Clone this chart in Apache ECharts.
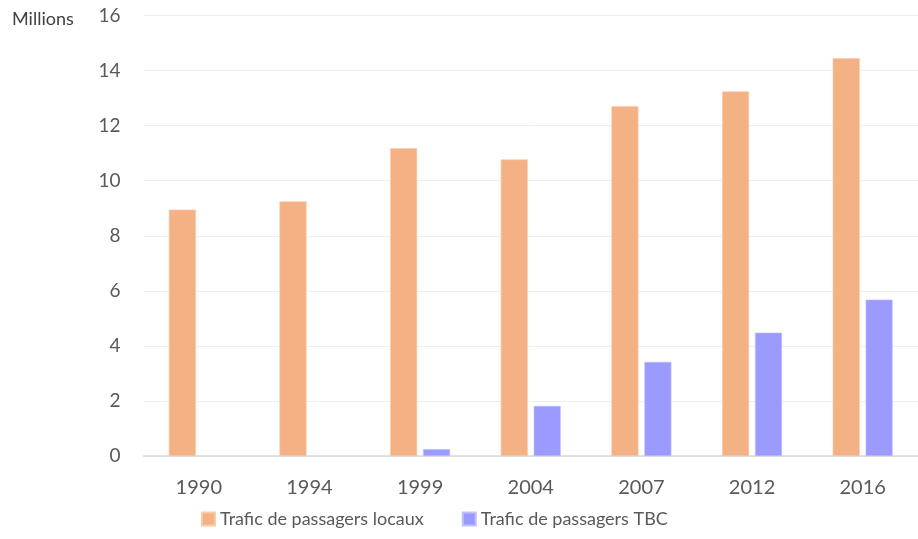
<!DOCTYPE html>
<html><head><meta charset="utf-8">
<script src="https://cdn.jsdelivr.net/npm/echarts@6/dist/echarts.min.js"></script>
<style>html,body{margin:0;padding:0;background:#fff}#c{width:918px;height:539px}</style>
</head><body><div id="c"></div>
<script>
const categories = ['1990','1994','1999','2004','2007','2012','2016'];
const localTraffic = [8.95, 9.25, 11.18, 10.77, 12.71, 13.24, 14.45];
const tbcTraffic = [null, null, 0.25, 1.82, 3.42, 4.48, 5.68];
const seriesNames = ['Trafic de passagers locaux', 'Trafic de passagers TBC'];
const yTicks = {min: 0, max: 16, interval: 2};
const unitLabel = 'Millions';

const font = 'Lato, "Open Sans", sans-serif';
const chart = echarts.init(document.getElementById('c'), null, {renderer: 'canvas'});
chart.setOption({
  animation: false,
  backgroundColor: '#fff',
  textStyle: {fontFamily: font},
  graphic: [{type: 'text', left: 12, top: 10, style: {text: unitLabel, fontFamily: font, fontSize: 18, fill: '#404040'}}],
  grid: {left: 143.5, top: 15.5, width: 782, height: 440.5, containLabel: false},
  legend: {
    bottom: 6, left: 196, itemWidth: 13, itemHeight: 13, itemGap: 38, icon: 'rect',
    textStyle: {fontFamily: font, fontSize: 18, color: '#595959'},
    data: seriesNames
  },
  xAxis: {
    type: 'category', data: categories,
    axisLine: {lineStyle: {color: '#d9d9d9', width: 1.5}},
    axisTick: {show: false},
    axisLabel: {color: '#595959', fontSize: 20, margin: 22, fontFamily: font}
  },
  yAxis: {
    type: 'value', min: yTicks.min, max: yTicks.max, interval: yTicks.interval,
    axisLine: {show: false}, axisTick: {show: false},
    splitLine: {lineStyle: {color: '#efefef', width: 1}},
    axisLabel: {color: '#595959', fontSize: 19, margin: 23, fontFamily: font}
  },
  series: [
    {name: seriesNames[0], type: 'bar', data: localTraffic, barWidth: 27, barGap: '22%',
     itemStyle: {color: '#F4B183', borderColor: '#F8CBA8', borderWidth: 0.6}},
    {name: seriesNames[1], type: 'bar', data: tbcTraffic, barWidth: 27,
     itemStyle: {color: '#9B9BFF', borderColor: '#C0C0FF', borderWidth: 0.6}}
  ]
});
</script></body></html>
